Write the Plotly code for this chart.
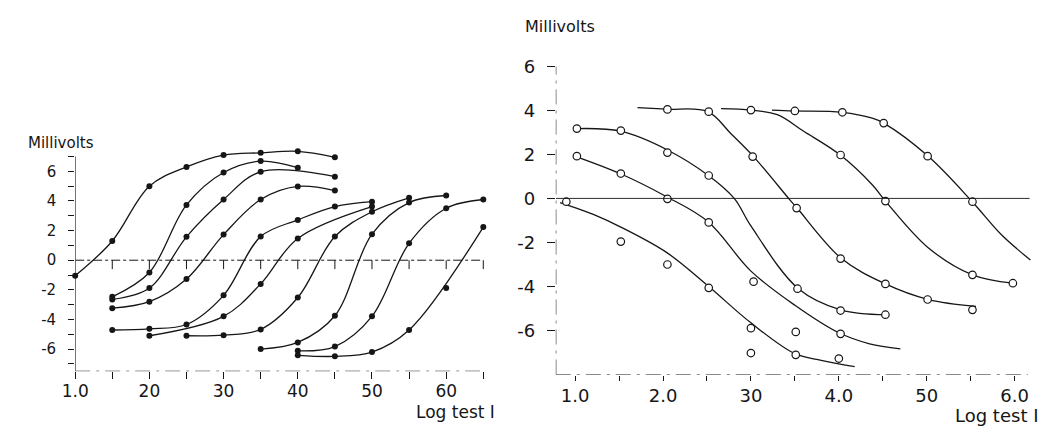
import plotly.graph_objects as go

# ---------------- Left panel data (filled dots, smooth curves through them) -------------
L_A_x = [1.0, 1.5, 2.0, 2.5, 3.0, 3.5, 4.0, 4.5]
L_A_y = [-1.05, 1.3, 5.0, 6.3, 7.1, 7.25, 7.35, 6.95]
L_B_x = [1.5, 2.0, 2.5, 3.0, 3.5, 4.0]
L_B_y = [-2.47, -0.83, 3.73, 5.92, 6.69, 6.25]
L_C_x = [1.5, 2.0, 2.5, 3.0, 3.5, 4.5]
L_C_y = [-2.65, -1.88, 1.58, 4.1, 5.97, 5.64]
L_D_x = [1.5, 2.0, 2.5, 3.0, 3.5, 4.0, 4.5]
L_D_y = [-3.24, -2.8, -1.27, 1.73, 4.1, 4.98, 4.7]
L_E_x = [1.5, 2.0, 2.5, 3.0, 3.5, 4.0, 4.5, 5.0]
L_E_y = [-4.71, -4.63, -4.34, -2.37, 1.6, 2.72, 3.62, 3.95]
L_F_x = [2.0, 3.0, 3.5, 4.0, 5.0]
L_F_y = [-5.1, -3.79, -1.6, 1.47, 3.62]
L_G_x = [2.5, 3.0, 3.5, 4.0, 4.5, 5.0, 5.5]
L_G_y = [-5.1, -5.06, -4.67, -2.52, 1.6, 3.27, 4.21]
L_H_x = [3.5, 4.0, 4.5, 5.0, 5.5, 6.0]
L_H_y = [-6.0, -5.55, -3.75, 1.76, 3.89, 4.37]
L_I_x = [4.0, 4.5, 5.0, 5.5, 6.0, 6.5]
L_I_y = [-6.12, -5.83, -3.79, 1.14, 3.51, 4.1]
L_J_x = [4.0, 4.5, 5.0, 5.5, 6.5]
L_J_y = [-6.42, -6.49, -6.2, -4.71, 2.24]
L_stray_x = [6.0]
L_stray_y = [-1.88]

left_xticks = [1.0, 1.5, 2.0, 2.5, 3.0, 3.5, 4.0, 4.5, 5.0, 5.5, 6.0, 6.5]
left_xlabels = ["1.0", "", "20", "", "30", "", "40", "", "50", "", "60", ""]
left_yticks = [-7, -6, -5, -4, -3, -2, -1, 0, 1, 2, 3, 4, 5, 6, 7]
left_ylabels = ["", "-6", "", "-4", "", "-2", "", "0", "", "2", "", "4", "", "6", ""]
left_zero_ticks = [1.5, 2.0, 2.5, 3.0, 3.5, 4.0, 4.5, 5.0, 5.5, 6.0, 6.5]

# ---------------- Right panel data (open circles, fitted smooth curves) -------------
R_a_x = [1.71, 2.04, 2.51, 2.77, 3.03, 3.45, 3.53, 4.03, 4.53, 5.02, 5.56]
R_a_y = [4.12, 4.05, 3.94, 2.95, 1.9, -0.1, -0.46, -2.73, -3.88, -4.59, -4.9]
R_b_x = [2.66, 3.0, 3.3, 3.6, 4.01, 4.38, 4.53, 5.02, 5.52, 5.98]
R_b_y = [4.08, 4.01, 3.8, 3.05, 1.99, 0.62, -0.12, -2.25, -3.47, -3.85]
R_c_x = [3.24, 3.49, 4.04, 4.38, 4.51, 5.02, 5.52, 5.85, 6.18]
R_c_y = [4.01, 3.97, 3.91, 3.64, 3.42, 1.9, -0.16, -1.65, -2.8]
R_d_x = [1.02, 1.52, 2.05, 2.52, 2.81, 3.0, 3.54, 4.03, 4.53]
R_d_y = [3.17, 3.05, 2.2, 1.03, 0.0, -1.25, -4.1, -5.07, -5.28]
R_e_x = [1.01, 1.51, 2.03, 2.51, 3.0, 3.5, 4.0, 4.35, 4.7]
R_e_y = [1.9, 1.13, 0.1, -1.05, -3.3, -4.85, -6.1, -6.6, -6.83]
R_f_x = [0.83, 1.24, 1.52, 2.04, 2.52, 3.0, 3.5, 3.8, 4.18]
R_f_y = [-0.19, -0.78, -1.3, -2.45, -4.0, -5.65, -7.05, -7.35, -7.64]

R_pts_x = [0.90, 1.02, 1.02, 1.52, 1.52, 1.52, 2.05, 2.05, 2.05, 2.05,
           2.52, 2.52, 2.52, 2.52, 3.0, 3.02, 3.03, 3.0, 3.0,
           3.5, 3.52, 3.53, 3.51, 3.51, 4.04, 4.02, 4.02, 4.02, 4.02, 4.0,
           4.51, 4.53, 4.53, 4.53, 5.01, 5.01, 5.52, 5.52, 5.52, 5.98]
R_pts_y = [-0.15, 3.17, 1.92, 3.08, 1.13, -1.96, 4.04, 2.08, -0.02, -3.0,
           3.94, 1.04, -1.09, -4.06, 4.01, 1.9, -3.78, -5.89, -7.02,
           3.97, -0.44, -4.1, -6.06, -7.1, 3.91, 1.97, -2.73, -5.09, -6.15, -7.27,
           3.42, -0.12, -3.88, -5.28, 1.92, -4.59, -0.15, -3.47, -5.06, -3.85]

right_xticks = [1.0, 1.5, 2.0, 2.5, 3.0, 3.5, 4.0, 4.5, 5.0, 5.5, 6.0]
right_xlabels = ["1.0", "", "2.0", "", "30", "", "4.0", "", "50", "", "6.0"]
right_yticks = [-6, -4, -2, 0, 2, 4, 6]
right_ylabels = ["-6", "-4", "-2", "0", "2", "4", "6"]

INK = "#161616"
FONT = "DejaVu Sans"

fig = go.Figure()

left_curves = [(L_A_x, L_A_y), (L_B_x, L_B_y), (L_C_x, L_C_y), (L_D_x, L_D_y),
               (L_E_x, L_E_y), (L_F_x, L_F_y), (L_G_x, L_G_y), (L_H_x, L_H_y),
               (L_I_x, L_I_y), (L_J_x, L_J_y)]
for cx, cy in left_curves:
    fig.add_trace(go.Scatter(x=cx, y=cy, mode="lines+markers", xaxis="x", yaxis="y",
                             line=dict(color=INK, width=1.3, shape="spline", smoothing=1.0),
                             marker=dict(color=INK, size=6, symbol="circle"),
                             cliponaxis=False, showlegend=False, hoverinfo="skip"))
fig.add_trace(go.Scatter(x=L_stray_x, y=L_stray_y, mode="markers", xaxis="x", yaxis="y",
                         marker=dict(color=INK, size=6), cliponaxis=False,
                         showlegend=False, hoverinfo="skip"))

right_curves = [(R_a_x, R_a_y), (R_b_x, R_b_y), (R_c_x, R_c_y),
                (R_d_x, R_d_y), (R_e_x, R_e_y), (R_f_x, R_f_y)]
for cx, cy in right_curves:
    fig.add_trace(go.Scatter(x=cx, y=cy, mode="lines", xaxis="x2", yaxis="y2",
                             line=dict(color=INK, width=1.3, shape="spline", smoothing=1.0),
                             showlegend=False, hoverinfo="skip"))
fig.add_trace(go.Scatter(x=R_pts_x, y=R_pts_y, mode="markers", xaxis="x2", yaxis="y2",
                         marker=dict(color="white", size=7.5, symbol="circle",
                                     line=dict(color=INK, width=1.2)),
                         cliponaxis=False, showlegend=False, hoverinfo="skip"))

shapes = []
# left axes lines
shapes.append(dict(type="line", xref="x", yref="y", x0=1.0, x1=1.0, y0=-7.5, y1=7.0,
                   line=dict(color=INK, width=1.1)))
shapes.append(dict(type="line", xref="x", yref="y", x0=1.0, x1=6.5, y0=-7.5, y1=-7.5,
                   line=dict(color=INK, width=1.1, dash="longdashdot")))
# left zero reference line with hanging ticks
shapes.append(dict(type="line", xref="x", yref="y", x0=1.0, x1=6.5, y0=0, y1=0,
                   line=dict(color=INK, width=1.0, dash="dashdot")))
for tv in left_zero_ticks:
    shapes.append(dict(type="line", xref="x", yref="y", x0=tv, x1=tv, y0=0, y1=-0.6,
                       line=dict(color=INK, width=1.0)))
# right axes lines
shapes.append(dict(type="line", xref="x2", yref="y2", x0=0.78, x1=0.78, y0=-8, y1=6,
                   line=dict(color=INK, width=1.1, dash="longdashdot")))
shapes.append(dict(type="line", xref="x2", yref="y2", x0=0.78, x1=6.15, y0=-8, y1=-8,
                   line=dict(color=INK, width=1.1, dash="longdashdot")))
# right zero reference line
shapes.append(dict(type="line", xref="x2", yref="y2", x0=0.78, x1=6.17, y0=0, y1=0,
                   line=dict(color=INK, width=0.9)))

W, H = 1049, 433

fig.update_layout(
    width=W, height=H,
    margin=dict(l=0, r=0, t=0, b=0),
    paper_bgcolor="white", plot_bgcolor="white",
    font=dict(family=FONT, color=INK),
    shapes=shapes,
    xaxis=dict(domain=[62 / W, 479.4 / W], range=[1.0, 6.55], showgrid=False, zeroline=False,
               showline=False, tickmode="array", tickvals=left_xticks, ticktext=left_xlabels,
               ticks="outside", ticklen=7, tickwidth=1, tickcolor=INK,
               tickfont=dict(size=17, family=FONT, color=INK), ticklabelstandoff=-3),
    yaxis=dict(domain=[1 - 369.7 / H, 1 - 140.2 / H], range=[-7.5, 7.6], anchor="x",
               showgrid=False, zeroline=False, showline=False, tickmode="array",
               tickvals=left_yticks, ticktext=left_ylabels, ticks="outside", ticklen=6,
               tickwidth=1, tickcolor=INK, tickfont=dict(size=15, family=FONT, color=INK),
               ticklabelstandoff=9),
    xaxis2=dict(domain=[549.1 / W, 1032.0 / W], range=[0.78, 6.2], anchor="y2",
                showgrid=False, zeroline=False, showline=False, tickmode="array",
                tickvals=right_xticks, ticktext=right_xlabels, ticks="outside", ticklen=5,
                tickwidth=1, tickcolor=INK, tickfont=dict(size=18, family=FONT, color=INK),
                ticklabelstandoff=0),
    yaxis2=dict(domain=[1 - 373.1 / H, 1 - 56.7 / H], range=[-8, 6], anchor="x2",
                showgrid=False, zeroline=False, showline=False, tickmode="array",
                tickvals=right_yticks, ticktext=right_ylabels, ticks="outside", ticklen=8,
                tickwidth=1, tickcolor=INK, tickfont=dict(size=18, family=FONT, color=INK),
                ticklabelstandoff=8),
    annotations=[
        dict(text="Millivolts", xref="paper", yref="paper", x=12 / W, y=1 - 135 / H,
             xanchor="left", yanchor="middle", showarrow=False,
             font=dict(size=15, family=FONT, color=INK)),
        dict(text="Millivolts", xref="paper", yref="paper", x=516 / W, y=1 - 16 / H,
             xanchor="left", yanchor="middle", showarrow=False,
             font=dict(size=16, family=FONT, color=INK)),
        dict(text="Log test I", xref="paper", yref="paper", x=405 / W, y=1 - 411 / H,
             xanchor="left", yanchor="middle", showarrow=False,
             font=dict(size=17, family=FONT, color=INK)),
        dict(text="Log test I", xref="paper", yref="paper", x=952 / W, y=1 - 415 / H,
             xanchor="left", yanchor="middle", showarrow=False,
             font=dict(size=18, family=FONT, color=INK)),
    ],
)

fig.write_html("out.html",
               config={"displayModeBar": False, "staticPlot": True},
               post_script="document.body.style.margin='0px';document.body.style.padding='0px';")
